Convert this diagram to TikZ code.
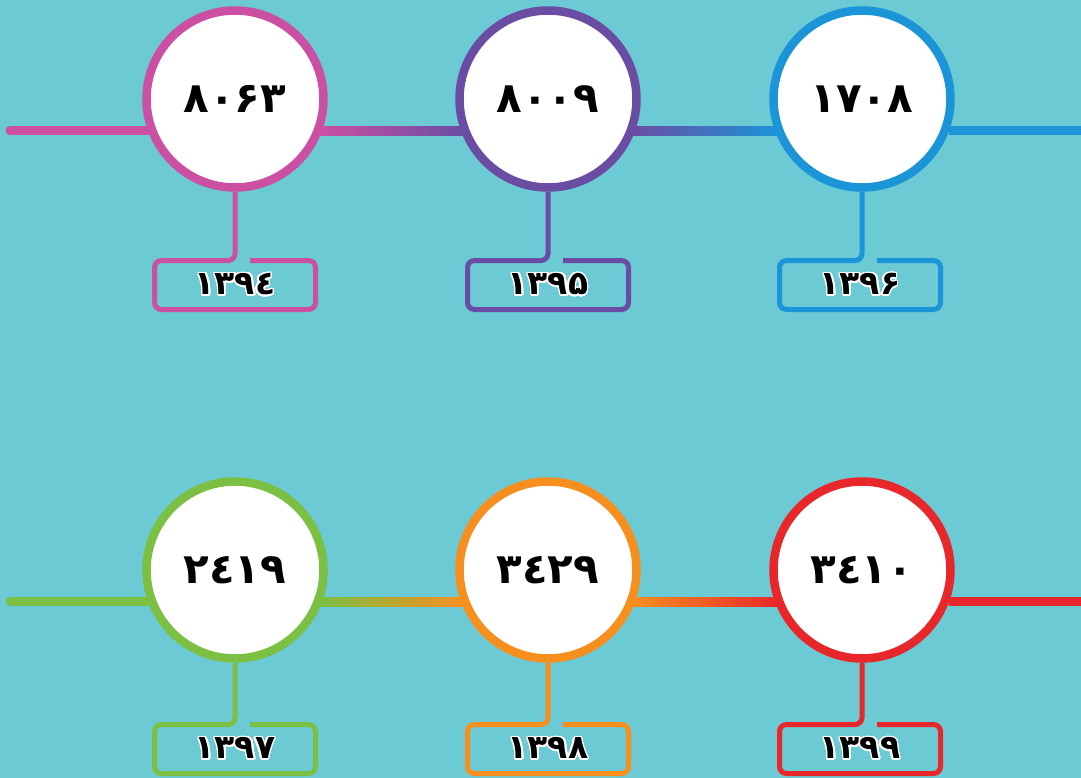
\documentclass[tikz,border=0pt]{standalone}
\usepackage{fontspec}
\usepackage{contour}
\usetikzlibrary{calc}

\newfontfamily\digitfont[Script=Arabic]{DejaVu Sans}
\contourlength{1.5pt}
\contournumber{24}

\definecolor{bgteal}{RGB}{108,202,212}
\definecolor{cpink}{RGB}{203,79,162}
\definecolor{cpurple}{RGB}{106,77,163}
\definecolor{cblue}{RGB}{27,149,215}
\definecolor{cgreen}{RGB}{123,191,67}
\definecolor{corange}{RGB}{247,143,31}
\definecolor{cred}{RGB}{232,39,42}

\begin{document}
\begin{tikzpicture}[
    x=1pt, y=-1pt,
    ring/.style={
        circle,
        draw=#1,
        fill=white,
        line width=8.5pt,
        minimum size=177pt,
        inner sep=0pt,
        font=\digitfont\bfseries\fontsize{42}{48}\selectfont
    },
    yearbox/.style={
        rectangle,
        minimum width=161pt,
        minimum height=49pt,
        inner sep=0pt,
        outer sep=0pt,
        font=\digitfont\bfseries\fontsize{33}{38}\selectfont
    },
    stem/.style={
        draw=#1,
        line width=5pt,
        rounded corners=7pt
    },
    rail/.style={
        line width=9pt
    }
]

\useasboundingbox (0,0) rectangle (1081,778);
\fill[bgteal] (0,0) rectangle (1081,778);

\coordinate (edgeL) at (10,0);
\coordinate (edgeR) at (1081,0);

% top row
\node[ring=cpink] (c1) at (235,99) {۸۰۶۳};
\node[ring=cpurple] (c2) at (548,99) {۸۰۰۹};
\node[ring=cblue] (c3) at (862,99) {۱۷۰۸};

\node[yearbox] (y1) at (235,285) {\contour{white}{۱۳۹٤}};
\node[yearbox] (y2) at (548,285) {\contour{white}{۱۳۹۵}};
\node[yearbox] (y3) at (860,285) {\contour{white}{۱۳۹۶}};

% bottom row
\node[ring=cgreen] (c4) at (235,570) {۲٤۱۹};
\node[ring=corange] (c5) at (548,570) {۳٤۲۹};
\node[ring=cred] (c6) at (862,570) {۳٤۱۰};

\node[yearbox] (y4) at (235,749) {\contour{white}{۱۳۹۷}};
\node[yearbox] (y5) at (548,749) {\contour{white}{۱۳۹۸}};
\node[yearbox] (y6) at (860,749) {\contour{white}{۱۳۹۹}};

% rails
\draw[rail, draw=cpink, line cap=round] (edgeL |- c1.200) -- (c1.200);
\shade[left color=cpink, right color=cpurple]
    ($(c1.-20)+(-3,-4.5)$) rectangle ($(c2.200)+(3,4.5)$);
\shade[left color=cpurple, right color=cblue]
    ($(c2.-20)+(-3,-4.5)$) rectangle ($(c3.200)+(3,4.5)$);
\draw[rail, draw=cblue] (c3.-20) -- (edgeR |- c3.-20);

\draw[rail, draw=cgreen, line cap=round] (edgeL |- c4.200) -- (c4.200);
\shade[left color=cgreen, right color=corange]
    ($(c4.-20)+(-3,-4.5)$) rectangle ($(c5.200)+(3,4.5)$);
\shade[left color=corange, right color=cred]
    ($(c5.-20)+(-3,-4.5)$) rectangle ($(c6.200)+(3,4.5)$);
\draw[rail, draw=cred] (c6.-20) -- (edgeR |- c6.-20);

% stems into the year boxes
\draw[stem=cpink] (c1.south) -- (c1.south |- y1.north) -- (y1.north west)
    -- (y1.south west) -- (y1.south east) -- (y1.north east)
    -- ($(c1.south |- y1.north)+(15,0)$);
\draw[stem=cpurple] (c2.south) -- (c2.south |- y2.north) -- (y2.north west)
    -- (y2.south west) -- (y2.south east) -- (y2.north east)
    -- ($(c2.south |- y2.north)+(15,0)$);
\draw[stem=cblue] (c3.south) -- (c3.south |- y3.north) -- (y3.north west)
    -- (y3.south west) -- (y3.south east) -- (y3.north east)
    -- ($(c3.south |- y3.north)+(15,0)$);

\draw[stem=cgreen] (c4.south) -- (c4.south |- y4.north) -- (y4.north west)
    -- (y4.south west) -- (y4.south east) -- (y4.north east)
    -- ($(c4.south |- y4.north)+(15,0)$);
\draw[stem=corange] (c5.south) -- (c5.south |- y5.north) -- (y5.north west)
    -- (y5.south west) -- (y5.south east) -- (y5.north east)
    -- ($(c5.south |- y5.north)+(15,0)$);
\draw[stem=cred] (c6.south) -- (c6.south |- y6.north) -- (y6.north west)
    -- (y6.south west) -- (y6.south east) -- (y6.north east)
    -- ($(c6.south |- y6.north)+(15,0)$);

\end{tikzpicture}
\end{document}
